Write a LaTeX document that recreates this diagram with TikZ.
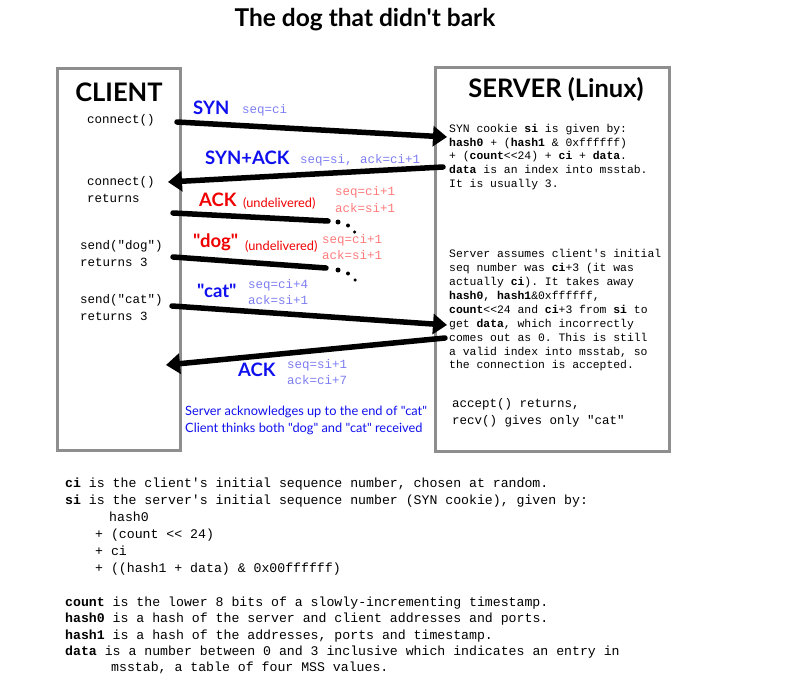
\documentclass[tikz,border=0pt]{standalone}
\usepackage{fontspec}
\setsansfont{Lato}[Ligatures=TeXOff]
\setmonofont{Liberation Mono}
\usetikzlibrary{arrows.meta}
\definecolor{cblue}{HTML}{1010EE}
\definecolor{lblue}{HTML}{7D7DF2}
\definecolor{cred}{HTML}{F00000}
\definecolor{lred}{HTML}{FF7B7B}
\definecolor{boxgray}{HTML}{8E8E8E}
\tikzset{
  boxframe/.style={draw=boxgray, line width=3pt},
  msg/.style={line width=5.5pt, line cap=round, -{Triangle[length=14pt,width=20pt]}},
  lost/.style={line width=5.5pt, line cap=round},
  dotmark/.style={circle, fill=black, inner sep=0pt},
  mono/.style={anchor=west, inner sep=0pt, text height=0.72em, text depth=0.18em},
  code/.style={mono, font=\fontsize{12.5}{15}\ttfamily},
  note/.style={mono, font=\fontsize{11.4}{14}\ttfamily},
  foot/.style={mono, font=\fontsize{13.2}{16}\ttfamily},
  bigtag/.style={anchor=west, inner sep=0pt, text height=0.72em, text depth=0em, font=\fontsize{18.5}{21}\sffamily\bfseries},
  smalltag/.style={anchor=west, inner sep=0pt, text height=0.72em, text depth=0.2em, font=\fontsize{12.8}{15}\sffamily},
  seqtag/.style={code},
  heading/.style={inner sep=0pt, font=\fontsize{25.5}{29}\sffamily\bfseries},
}
\begin{document}
\begin{tikzpicture}[x=1pt,y=-1pt]
\useasboundingbox (0,0) rectangle (799,687);

% title
\node[heading, font=\fontsize{24.5}{28}\sffamily\bfseries] (title) at (365,20) {The dog that didn't bark};

% boxes
\draw[boxframe] (57,69) rectangle (180,450);
\draw[boxframe] (435,68) rectangle (669,451);
\node[heading] (client) at (119,92) {CLIENT};
\node[heading] (server) at (556,90) {SERVER (Linux)};

% client side texts
\node[code] (c1) at (87,121) {connect()};
\node[code] (c2) at (87,183) {connect()};
\node[code] (c3) at (87,200) {returns};
\node[code] (c4) at (80,247) {send("dog")};
\node[code] (c5) at (80,264) {returns 3};
\node[code] (c6) at (80,301) {send("cat")};
\node[code] (c7) at (80,318) {returns 3};

% arrow end points
\coordinate (synS) at (177,122);
\coordinate (synE) at (447,137);
\coordinate (saS) at (443,167);
\coordinate (saE) at (168,182);
\coordinate (ackS) at (173,213);
\coordinate (ackE) at (328,221);
\coordinate (dogS) at (173,257);
\coordinate (dogE) at (326,268);
\coordinate (catS) at (172,306);
\coordinate (catE) at (447,325);
\coordinate (backS) at (445,338);
\coordinate (backE) at (166,365);

\draw[msg] (synS) -- (synE);
\draw[msg] (saS) -- (saE);
\draw[lost] (ackS) -- (ackE);
\draw[lost] (dogS) -- (dogE);
\draw[msg] (catS) -- (catE);
\draw[msg] (backS) -- (backE);

% dots of lost segments
\node[dotmark, minimum size=5pt] (d1) at (338,222) {};
\node[dotmark, minimum size=4pt] (d2) at (348,225.5) {};
\node[dotmark, minimum size=3.5pt] (d3) at (354.5,232) {};
\node[dotmark, minimum size=5pt] (e1) at (338,270) {};
\node[dotmark, minimum size=4pt] (e2) at (348,273.5) {};
\node[dotmark, minimum size=3.5pt] (e3) at (355,280) {};

% labels
\node[bigtag, text=cblue] (l1) at (193,111) {SYN};
\node[seqtag, text=lblue] (s1) at (242,111) {seq=ci};
\node[bigtag, text=cblue] (l2) at (205,161) {SYN+ACK};
\node[seqtag, text=lblue] (s2) at (300,161) {seq=si, ack=ci+1};
\node[bigtag, text=cred] (l3) at (199,203) {ACK};
\node[smalltag, text=cred] (u3) at (243,205) {(undelivered)};
\node[seqtag, text=lred] (s3a) at (335,193) {seq=ci+1};
\node[seqtag, text=lred] (s3b) at (335,210) {ack=si+1};
\node[bigtag, text=cred] (l4) at (193,244) {"dog"};
\node[smalltag, text=cred] (u4) at (245,248) {(undelivered)};
\node[seqtag, text=lred] (s4a) at (322,241) {seq=ci+1};
\node[seqtag, text=lred] (s4b) at (322,257) {ack=si+1};
\node[bigtag, text=cblue] (l5) at (197,294) {"cat"};
\node[seqtag, text=lblue] (s5a) at (248,286) {seq=ci+4};
\node[seqtag, text=lblue] (s5b) at (248,302) {ack=si+1};
\node[bigtag, text=cblue] (l6) at (238,373) {ACK};
\node[seqtag, text=lblue] (s6a) at (287,366) {seq=si+1};
\node[seqtag, text=lblue] (s6b) at (287,382) {ack=ci+7};
\node[smalltag, text=cblue] (b1) at (185,413) {Server acknowledges up to the end of "cat"};
\node[smalltag, text=cblue] (b2) at (185,430) {Client thinks both "dog" and "cat" received};

% server notes
\node[note] (n1) at (449,130) {SYN cookie \textbf{si} is given by:};
\node[note] (n2) at (449,143.5) {\textbf{hash0} + (\textbf{hash1} \& 0xffffff)};
\node[note] (n3) at (449,157) {+ (\textbf{count}<<24) + \textbf{ci} + \textbf{data}.};
\node[note] (n4) at (449,171) {\textbf{data} is an index into msstab.};
\node[note] (n5) at (449,185) {It is usually 3.};

\node[note] (m1) at (449,255) {Server assumes client's initial};
\node[note] (m2) at (449,269) {seq number was \textbf{ci}+3 (it was};
\node[note] (m3) at (449,283) {actually \textbf{ci}). It takes away};
\node[note] (m4) at (449,297) {\textbf{hash0}, \textbf{hash1}\&0xffffff,};
\node[note] (m5) at (449,311) {\textbf{count}<<24 and \textbf{ci}+3 from \textbf{si} to};
\node[note] (m6) at (449,325) {get \textbf{data}, which incorrectly};
\node[note] (m7) at (449,339) {comes out as 0. This is still};
\node[note] (m8) at (449,353) {a valid index into msstab, so};
\node[note] (m9) at (449,366) {the connection is accepted.};

\node[code] (a1) at (452,405) {accept() returns,};
\node[code] (a2) at (452,422) {recv() gives only "cat"};

% footnotes
\node[foot] (f1) at (65,485) {\textbf{ci} is the client's initial sequence number, chosen at random.};
\node[foot] (f2) at (65,502) {\textbf{si} is the server's initial sequence number (SYN cookie), given by:};
\node[foot] (f3) at (109,519) {hash0};
\node[foot] (f4) at (95,536) {+ (count << 24)};
\node[foot] (f5) at (95,553) {+ ci};
\node[foot] (f6) at (95,570) {+ ((hash1 + data) \& 0x00ffffff)};

\node[foot] (g1) at (65,604) {\textbf{count} is the lower 8 bits of a slowly-incrementing timestamp.};
\node[foot] (g2) at (65,620) {\textbf{hash0} is a hash of the server and client addresses and ports.};
\node[foot] (g3) at (65,637) {\textbf{hash1} is a hash of the addresses, ports and timestamp.};
\node[foot] (g4) at (65,653) {\textbf{data} is a number between 0 and 3 inclusive which indicates an entry in};
\node[foot] (g5) at (111,669) {msstab, a table of four MSS values.};
\end{tikzpicture}
\end{document}
